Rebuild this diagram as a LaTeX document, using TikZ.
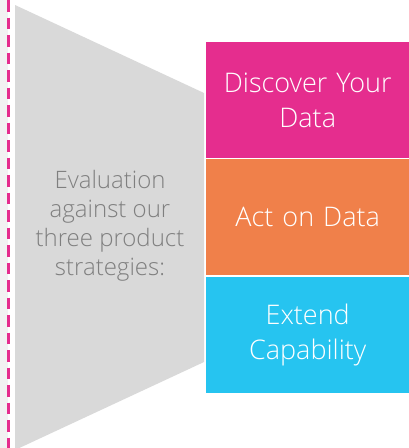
\documentclass[tikz,border=0pt]{standalone}
\usepackage{fontspec}
\IfFontExistsTF{Open Sans Light}{\setmainfont{Open Sans Light}}{\setmainfont{Open Sans}}
\definecolor{dpink}{HTML}{E52D8E}
\definecolor{dorange}{HTML}{F0804A}
\definecolor{dblue}{HTML}{26C4F0}
\definecolor{funnel}{HTML}{D9D9D9}
\definecolor{strip}{HTML}{F2F2F2}
\definecolor{evtext}{HTML}{7F7F7F}
\begin{document}
\begin{tikzpicture}[x=1pt,y=-1pt,
  boxstyle/.style={anchor=north west, minimum width=203pt, minimum height=116pt, inner sep=0pt, text=white, font=\fontsize{27}{35}\selectfont, align=center, text width=200pt},
  evstyle/.style={text=evtext, font=\fontsize{24}{29}\selectfont, align=center}]
\useasboundingbox (0,0) rectangle (409,448);
\fill[white] (0,0) rectangle (409,448);
\fill[strip] (0,0) rectangle (8,448);
\coordinate (dtop) at (8,0);
\coordinate (dbot) at (8,448);
\draw[dpink, line width=3pt, dash pattern=on 11.5pt off 6pt] (dtop) -- (dbot);
\fill[funnel] (15,5) -- (204,93) -- (204,362) -- (15,450) -- cycle;
\node[evstyle] (ev) at (110,226) {Evaluation\\against our\\three product\\strategies:};
\node[boxstyle, fill=dpink] (disc) at (206,42) {Discover Your\\Data};
\node[boxstyle, fill=dorange] (act) at (206,159) {Act on Data};
\node[boxstyle, fill=dblue] (ext) at (206,277) {Extend\\Capability};
\end{tikzpicture}
\end{document}
